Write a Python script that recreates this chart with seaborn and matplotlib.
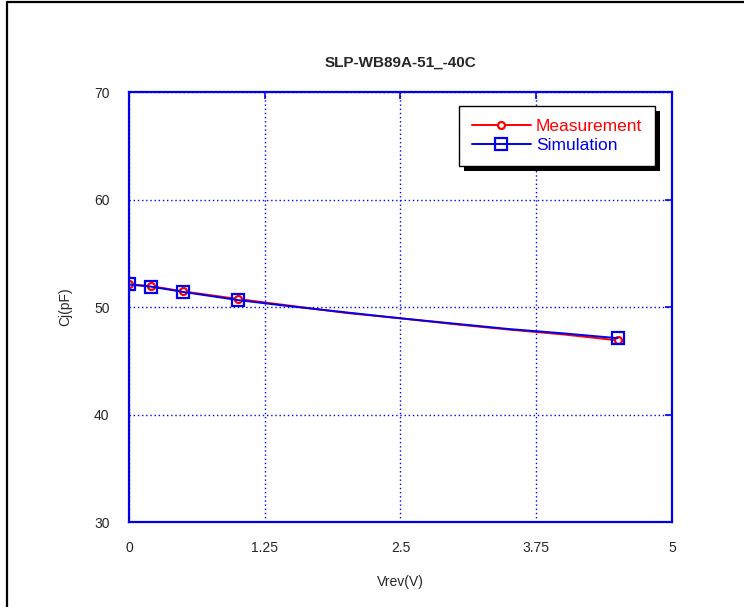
import matplotlib
matplotlib.use("Agg")
import matplotlib.pyplot as plt
from matplotlib.lines import Line2D
from matplotlib.patches import Rectangle
import seaborn as sns
import pandas as pd

# Data
vrev = [0.0, 0.2, 0.5, 1.0, 1.5, 2.0, 2.5, 3.0, 3.5, 4.0, 4.5]
cj_meas = [52.1, 51.95, 51.45, 50.75, 50.1, 49.45, 48.95, 48.4, 47.9, 47.45, 46.9]
cj_sim = [52.1, 51.9, 51.4, 50.65, 50.05, 49.5, 48.95, 48.45, 47.95, 47.55, 47.1]
marker_idx = [0, 1, 2, 3, 10]

x_ticks = [0, 1.25, 2.5, 3.75, 5]
x_ticklabels = ["0", "1.25", "2.5", "3.75", "5"]
y_ticks = [30, 40, 50, 60, 70]

sns.set_style("white")
plt.rcParams['font.family'] = ['Liberation Sans', 'DejaVu Sans']

df = pd.DataFrame({"Vrev": vrev, "meas": cj_meas, "sim": cj_sim})

fig = plt.figure(figsize=(7.44, 6.07), dpi=100)
ax = fig.add_axes([0.1734, 0.14, 0.7298, 0.7084])

BLUE = "#0000ee"
RED = "#ff0000"

sns.lineplot(data=df, x="Vrev", y="meas", ax=ax, color=RED, linewidth=1.4,
             marker="o", markersize=5, markevery=marker_idx,
             markerfacecolor="white", markeredgecolor=RED, markeredgewidth=1.6,
             label="Measurement")
sns.lineplot(data=df, x="Vrev", y="sim", ax=ax, color=BLUE, linewidth=1.4,
             marker="s", markersize=8, markevery=marker_idx,
             markerfacecolor="none", markeredgecolor=BLUE, markeredgewidth=1.6,
             label="Simulation")

ax.set_xlim(0, 5)
ax.set_ylim(30, 70)
ax.set_xticks(x_ticks)
ax.set_xticklabels(x_ticklabels)
ax.set_yticks(y_ticks)

ax.grid(True, color=BLUE, linestyle=(0, (1, 2)), linewidth=1.0)
for sp in ax.spines.values():
    sp.set_color(BLUE)
    sp.set_linewidth(1.6)
ax.tick_params(direction="in", length=5, width=1.2, color=BLUE,
               top=True, right=True, labelsize=10, pad=14)

ax.set_title("SLP-WB89A-51_-40C", fontsize=11, fontweight="bold", pad=18)
ax.set_xlabel("Vrev(V)", fontsize=10, labelpad=14)
ax.set_ylabel("Cj(pF)", fontsize=10, labelpad=16)

leg = ax.legend(loc="upper right", bbox_to_anchor=(0.969, 0.967), borderaxespad=0,
                fancybox=False, frameon=True, framealpha=1, facecolor="white",
                fontsize=12.5, handlelength=3.4, borderpad=0.75,
                labelspacing=0.2, handletextpad=0.3)
leg.get_frame().set_edgecolor("black")
leg.get_frame().set_linewidth(1.0)
leg.get_texts()[0].set_color(RED)
leg.get_texts()[1].set_color(BLUE)

# black drop shadow behind legend
fig.canvas.draw()
bb = leg.get_window_extent()
shadow = Rectangle((bb.x0 + 5, bb.y0 - 5), bb.width, bb.height, transform=None,
                   facecolor="black", edgecolor="none", zorder=4.5, clip_on=False)
ax.add_artist(shadow)

# outer frame of the original screenshot
fig.add_artist(Line2D([7 / 744, 7 / 744], [0, 1 - 2 / 607], color="black", linewidth=1.6))
fig.add_artist(Line2D([7 / 744, 1], [1 - 2 / 607, 1 - 2 / 607], color="black", linewidth=1.6))

fig.savefig("out.png", dpi=100)
